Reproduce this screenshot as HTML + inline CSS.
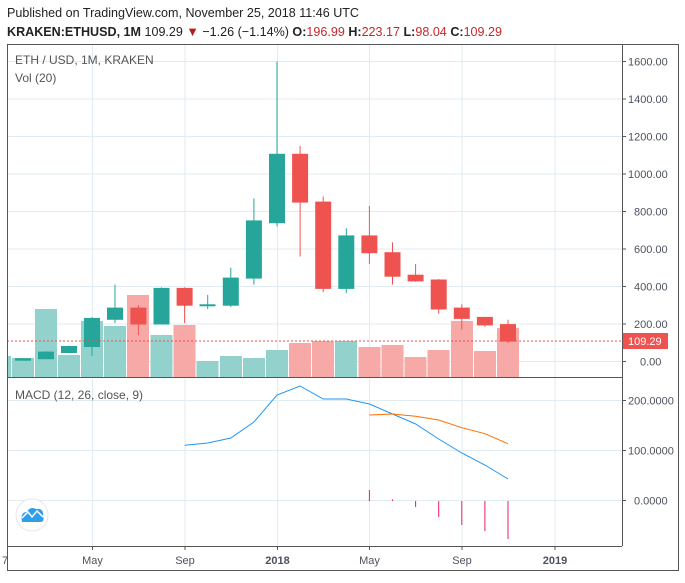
<!DOCTYPE html>
<html><head><meta charset="utf-8"><style>
body{margin:0;background:#fff;width:685px;height:578px;overflow:hidden;font-family:"Liberation Sans",sans-serif}
</style></head><body>
<svg width="685" height="578" xmlns="http://www.w3.org/2000/svg" font-family="Liberation Sans, sans-serif">
<text x="7" y="17" font-size="13" fill="#222" textLength="352" lengthAdjust="spacingAndGlyphs">Published on TradingView.com, November 25, 2018 11:46 UTC</text>
<text x="7" y="36" font-size="13" fill="#222" textLength="495" lengthAdjust="spacingAndGlyphs"><tspan font-weight="bold">KRAKEN:ETHUSD, 1M</tspan> 109.29 <tspan fill="#b71c1c">▼</tspan> −1.26 (−1.14%) <tspan font-weight="bold">O:</tspan><tspan fill="#c62828">196.99</tspan> <tspan font-weight="bold">H:</tspan><tspan fill="#c62828">223.17</tspan> <tspan font-weight="bold">L:</tspan><tspan fill="#c62828">98.04</tspan> <tspan font-weight="bold">C:</tspan><tspan fill="#c62828">109.29</tspan></text>
<g stroke="#e1ecf2" stroke-width="1">
<line x1="92.5" y1="44" x2="92.5" y2="546"/><line x1="185" y1="44" x2="185" y2="546"/><line x1="277.5" y1="44" x2="277.5" y2="546"/><line x1="369.5" y1="44" x2="369.5" y2="546"/><line x1="462" y1="44" x2="462" y2="546"/><line x1="555" y1="44" x2="555" y2="546"/>
<line x1="7" y1="61.5" x2="622" y2="61.5"/><line x1="7" y1="99" x2="622" y2="99"/><line x1="7" y1="136.5" x2="622" y2="136.5"/><line x1="7" y1="174" x2="622" y2="174"/><line x1="7" y1="211.5" x2="622" y2="211.5"/><line x1="7" y1="249" x2="622" y2="249"/><line x1="7" y1="286.5" x2="622" y2="286.5"/><line x1="7" y1="324" x2="622" y2="324"/><line x1="7" y1="361.5" x2="622" y2="361.5"/>
<line x1="7" y1="400.5" x2="622" y2="400.5"/><line x1="7" y1="450.5" x2="622" y2="450.5"/><line x1="7" y1="500.5" x2="622" y2="500.5"/>
</g>
<g>
<rect x="7" y="356" width="4" height="21" fill="#93d2cc"/>
<rect x="12" y="358" width="22" height="19" fill="#93d2cc"/>
<rect x="35" y="309" width="22" height="68" fill="#93d2cc"/>
<rect x="58" y="355" width="22" height="22" fill="#93d2cc"/>
<rect x="81" y="321" width="22" height="56" fill="#93d2cc"/>
<rect x="104" y="326" width="22" height="51" fill="#93d2cc"/>
<rect x="127" y="295" width="22" height="82" fill="#f6a9a7"/>
<rect x="150.5" y="335" width="22" height="42" fill="#93d2cc"/>
<rect x="173.5" y="325" width="22" height="52" fill="#f6a9a7"/>
<rect x="196.5" y="361" width="22" height="16" fill="#93d2cc"/>
<rect x="220" y="356" width="22" height="21" fill="#93d2cc"/>
<rect x="243" y="358" width="22" height="19" fill="#93d2cc"/>
<rect x="266" y="350" width="22" height="27" fill="#93d2cc"/>
<rect x="289" y="343" width="22" height="34" fill="#f6a9a7"/>
<rect x="312" y="341" width="22" height="36" fill="#f6a9a7"/>
<rect x="335" y="341" width="22" height="36" fill="#93d2cc"/>
<rect x="358.5" y="347" width="22" height="30" fill="#f6a9a7"/>
<rect x="381.5" y="345" width="22" height="32" fill="#f6a9a7"/>
<rect x="404.5" y="357" width="22" height="20" fill="#f6a9a7"/>
<rect x="427.5" y="350" width="22" height="27" fill="#f6a9a7"/>
<rect x="451" y="321" width="22" height="56" fill="#f6a9a7"/>
<rect x="474" y="351" width="22" height="26" fill="#f6a9a7"/>
<rect x="497" y="328" width="22" height="49" fill="#f6a9a7"/>
</g>
<g stroke-width="1">
<g stroke="#26a69a" fill="#26a69a">
<line x1="23" y1="358.5" x2="23" y2="359.6"/><rect x="15.5" y="358.7" width="15" height="1.5"/>
<line x1="46" y1="351.2" x2="46" y2="358.7"/><rect x="38.5" y="352.1" width="15" height="6.6"/>
<line x1="69" y1="345.6" x2="69" y2="352.9"/><rect x="61.5" y="346.5" width="15" height="6"/>
<line x1="92" y1="317.2" x2="92" y2="355.9"/><rect x="84.5" y="318.4" width="15" height="28.1"/>
<line x1="115" y1="284.6" x2="115" y2="323.1"/><rect x="107.5" y="308.1" width="15" height="11.2"/>
<line x1="161.5" y1="287.4" x2="161.5" y2="324"/><rect x="154" y="288.4" width="15" height="35.6"/>
<line x1="207.7" y1="294.9" x2="207.7" y2="309"/><rect x="200" y="304.8" width="15" height="1"/>
<line x1="230.8" y1="267.7" x2="230.8" y2="307.1"/><rect x="223.3" y="278.1" width="15" height="27.1"/>
<line x1="253.9" y1="198.4" x2="253.9" y2="284.6"/><rect x="246.4" y="220.9" width="15" height="57.2"/>
<line x1="277" y1="61.5" x2="277" y2="226.5"/><rect x="269.5" y="154.3" width="15" height="68.4"/>
<line x1="346.3" y1="228.4" x2="346.3" y2="293.1"/><rect x="338.8" y="235.9" width="15" height="52.5"/>
</g>
<g stroke="#ef5350" fill="#ef5350">
<line x1="138.4" y1="305.2" x2="138.4" y2="335.2"/><rect x="130.9" y="308.1" width="15" height="15.9"/>
<line x1="184.6" y1="287.4" x2="184.6" y2="323.1"/><rect x="177.1" y="288.4" width="15" height="16.8"/>
<line x1="300.1" y1="145.9" x2="300.1" y2="256.5"/><rect x="292.6" y="154.3" width="15" height="47.8"/>
<line x1="323.2" y1="196.5" x2="323.2" y2="292.1"/><rect x="315.7" y="202.1" width="15" height="86.3"/>
<line x1="369.4" y1="205.9" x2="369.4" y2="264"/><rect x="361.9" y="235.9" width="15" height="16.8"/>
<line x1="392.5" y1="242.4" x2="392.5" y2="284.6"/><rect x="385" y="252.7" width="15" height="23.5"/>
<line x1="415.6" y1="264" x2="415.6" y2="281.8"/><rect x="408.1" y="275.2" width="15" height="5.7"/>
<line x1="438.7" y1="279" x2="438.7" y2="313.7"/><rect x="431.2" y="280" width="15" height="29"/>
<line x1="461.8" y1="304.3" x2="461.8" y2="329.6"/><rect x="454.3" y="308.1" width="15" height="10.3"/>
<line x1="484.9" y1="317.4" x2="484.9" y2="326.8"/><rect x="477.4" y="317.4" width="15" height="7.5"/>
<line x1="508" y1="319.7" x2="508" y2="343.1"/><rect x="500.5" y="324.6" width="15" height="16.5"/>
</g>
</g>
<line x1="7" y1="341" x2="622" y2="341" stroke="#ef5350" stroke-dasharray="2,2"/>
<g stroke="#e91e63" stroke-width="1">
<line x1="369.4" y1="490" x2="369.4" y2="501"/><line x1="392.5" y1="499.5" x2="392.5" y2="501"/><line x1="415.6" y1="501" x2="415.6" y2="507"/><line x1="438.7" y1="501" x2="438.7" y2="517"/><line x1="461.8" y1="501" x2="461.8" y2="525"/><line x1="484.9" y1="501" x2="484.9" y2="531"/><line x1="508" y1="501" x2="508" y2="539"/>
</g>
<polyline fill="none" stroke="#2196f3" stroke-width="1" points="184.6,445.3 207.7,443 230.8,438 253.9,422 277,395 300.1,386 323.2,399 346.3,399 369.4,404 392.5,414 415.6,424 438.7,439 461.8,453 484.9,465 508,479"/>
<polyline fill="none" stroke="#ff6d00" stroke-width="1" points="369.4,415 392.5,414 415.6,416.3 438.7,420 461.8,427.7 484.9,433.7 508,443.7"/>
<g stroke="#555" stroke-width="1" fill="none">
<rect x="7.5" y="44.5" width="671" height="526"/>
<line x1="7" y1="377.5" x2="622" y2="377.5"/>
<line x1="7" y1="546.5" x2="622" y2="546.5"/>
<line x1="622.5" y1="44" x2="622.5" y2="546"/>
</g>
<g stroke="#555"><line x1="622" y1="61.5" x2="626" y2="61.5"/><line x1="622" y1="99" x2="626" y2="99"/><line x1="622" y1="136.5" x2="626" y2="136.5"/><line x1="622" y1="174" x2="626" y2="174"/><line x1="622" y1="211.5" x2="626" y2="211.5"/><line x1="622" y1="249" x2="626" y2="249"/><line x1="622" y1="286.5" x2="626" y2="286.5"/><line x1="622" y1="324" x2="626" y2="324"/><line x1="622" y1="361.5" x2="626" y2="361.5"/><line x1="622" y1="400.5" x2="626" y2="400.5"/><line x1="622" y1="450.5" x2="626" y2="450.5"/><line x1="622" y1="500.5" x2="626" y2="500.5"/>
<line x1="92.5" y1="546" x2="92.5" y2="550"/><line x1="185" y1="546" x2="185" y2="550"/><line x1="277.5" y1="546" x2="277.5" y2="550"/><line x1="369.5" y1="546" x2="369.5" y2="550"/><line x1="462" y1="546" x2="462" y2="550"/><line x1="555" y1="546" x2="555" y2="550"/></g>
<g font-size="11" fill="#4c525e">
<text x="628" y="65.5">1600.00</text><text x="628" y="103">1400.00</text><text x="628" y="140.5">1200.00</text><text x="628" y="178">1000.00</text><text x="634" y="215.5">800.00</text><text x="634" y="253">600.00</text><text x="634" y="290.5">400.00</text><text x="634" y="328">200.00</text><text x="640" y="365.5">0.00</text>
<text x="628" y="404.5">200.0000</text><text x="628" y="454.5">100.0000</text><text x="634" y="504.5">0.0000</text>
</g>
<rect x="623" y="333" width="45" height="16" fill="#ef5350"/>
<text x="628" y="345" font-size="11" fill="#fff">109.29</text>
<g font-size="11" fill="#4c525e" text-anchor="middle">
<text x="5" y="564">7</text><text x="92.5" y="564">May</text><text x="185" y="564">Sep</text><text x="277.5" y="564" font-weight="bold">2018</text><text x="369.5" y="564">May</text><text x="462" y="564">Sep</text><text x="555" y="564" font-weight="bold">2019</text>
</g>
<text x="15" y="64" font-size="12" fill="#555">ETH / USD, 1M, KRAKEN</text>
<text x="15" y="82" font-size="12" fill="#555">Vol (20)</text>
<text x="15" y="399" font-size="12" fill="#555">MACD (12, 26, close, 9)</text>
<circle cx="32" cy="515" r="16" fill="#fff" stroke="#e6e6e6"/>
<path d="M22 522 Q20 512 27 512 Q30 506 36 509 Q44 508 43 516 Q45 522 40 522 Z" fill="#2e9ee8"/>
<polyline points="22,518 28,512 32,517 37,511 43,517" fill="none" stroke="#fff" stroke-width="1.5"/>
</svg>
</body></html>
